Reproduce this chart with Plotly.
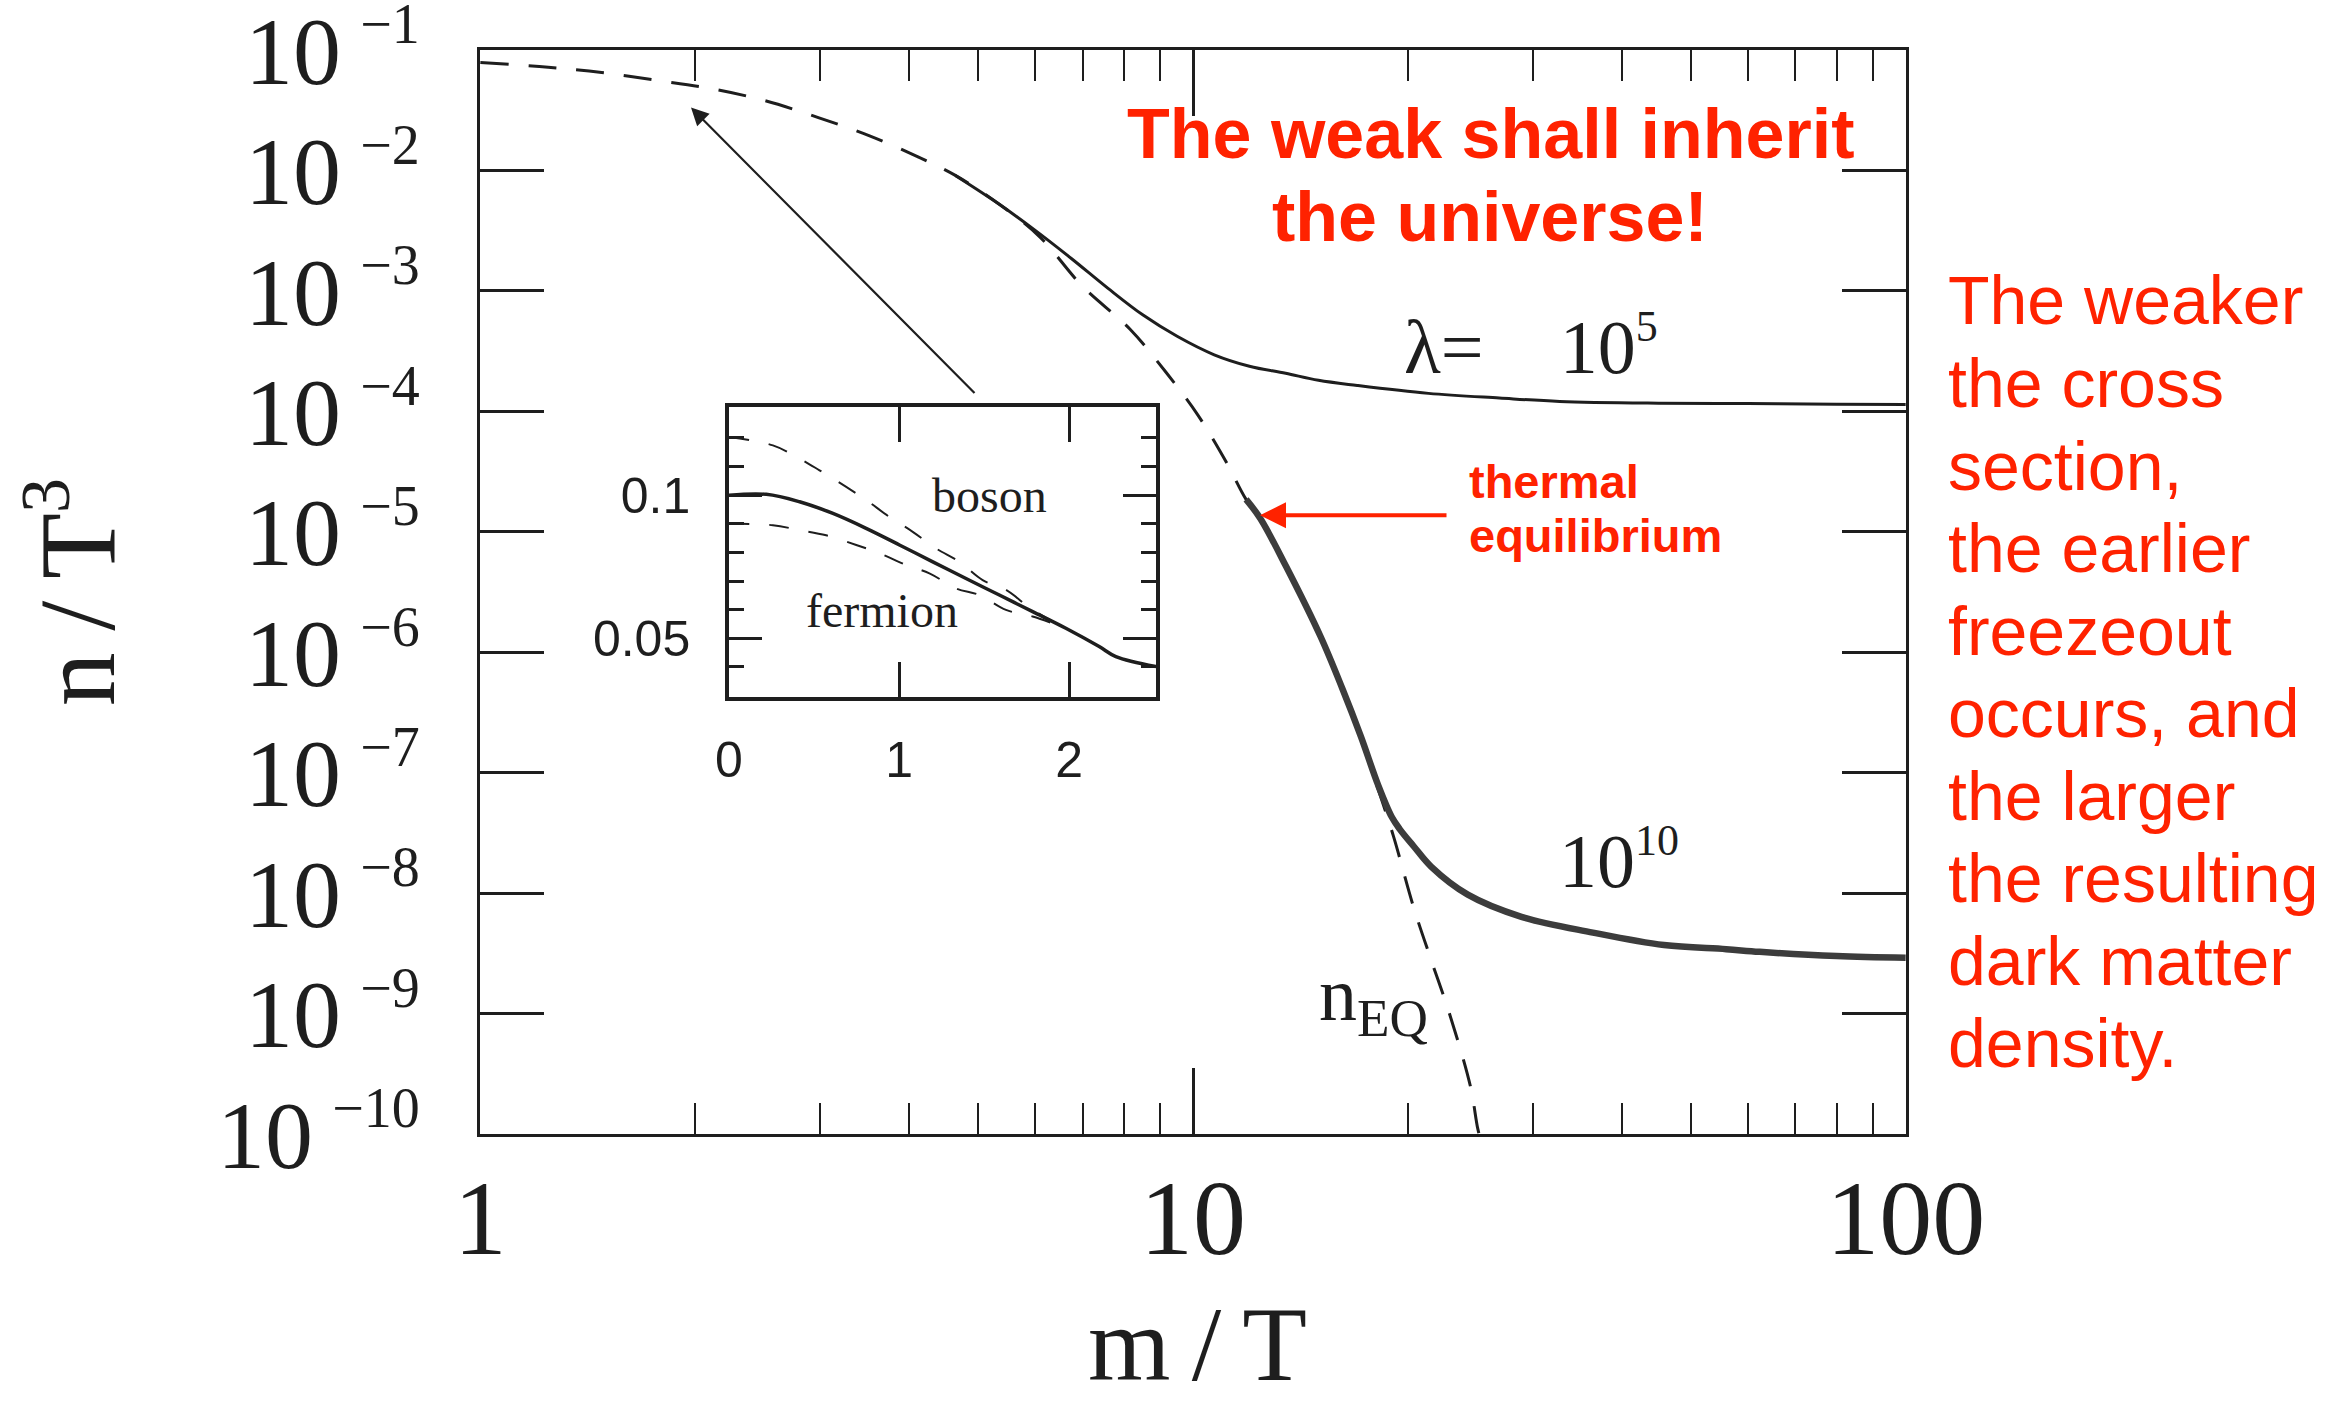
import plotly.graph_objects as go

# ---- data ----
# equilibrium abundance (dashed)
x_eq = [1.0, 1.245, 1.48, 1.77, 2.1, 2.51, 2.98, 3.51, 4.12, 4.64, 5.36, 6.1, 6.99,
        8.16, 9.17, 10.16, 11.16, 11.87, 12.43, 13.5, 15.1, 16.6, 18.2, 19.1, 20.4,
        21.6, 22.9, 24.5, 25.1, 25.4]
n_eq = [7.9e-2, 7.2e-2, 6.5e-2, 5.6e-2, 4.8e-2, 3.8e-2, 2.75e-2, 1.95e-2, 1.29e-2,
        9.1e-3, 5.2e-3, 2.8e-3, 1.1e-3, 4.8e-4, 2.1e-4, 9.3e-5, 3.7e-5, 1.86e-5,
        1.29e-5, 5.2e-6, 1.35e-6, 3.5e-7, 7.2e-8, 3.0e-8, 7.6e-9, 2.75e-9, 1.0e-9,
        2.5e-10, 1.1e-10, 8.5e-11]

# lambda = 1e5
x_lam5 = [4.64, 5.36, 6.0, 6.75, 7.6, 8.51, 9.5, 10.71, 12.0, 13.49, 15.0, 17.0,
          21.4, 26.9, 32.7, 45, 60, 80, 100]
n_lam5 = [9.1e-3, 5.2e-3, 3.2e-3, 1.86e-3, 1.05e-3, 6.3e-4, 4.2e-4, 2.95e-4, 2.37e-4,
          2.07e-4, 1.81e-4, 1.64e-4, 1.41e-4, 1.29e-4, 1.21e-4, 1.17e-4, 1.16e-4,
          1.145e-4, 1.14e-4]

# lambda = 1e10
x_lam10 = [11.87, 12.43, 13.5, 15.1, 16.2, 17.2, 18.2, 19.0, 19.5, 20.4, 21.6, 24.3,
           28.9, 36.4, 45.8, 56, 62.4, 80, 100]
n_lam10 = [1.86e-5, 1.29e-5, 5.2e-6, 1.35e-6, 5.0e-7, 2.0e-7, 7.8e-8, 4.3e-8, 3.4e-8,
           2.45e-8, 1.65e-8, 9.7e-9, 6.35e-9, 4.7e-9, 3.7e-9, 3.42e-9, 3.25e-9, 3.0e-9,
           2.9e-9]

# inset: Maxwell-Boltzmann (solid), boson and fermion (dashed)
inset_x_mb = [0.0, 0.219, 0.415, 0.611, 0.806, 1.002, 1.198, 1.393, 1.589, 1.785,
              1.98, 2.176, 2.274, 2.51]
inset_mb = [0.1, 0.1003, 0.0977, 0.0936, 0.0884, 0.0826, 0.0767, 0.0709, 0.0651,
            0.0593, 0.0535, 0.0471, 0.0436, 0.0401]
inset_x_boson = [0.0, 0.258, 0.415, 0.532, 0.689, 0.806, 0.943, 1.08, 1.217, 1.354,
                 1.491, 1.628, 1.785, 1.98]
inset_boson = [0.1203, 0.1174, 0.1128, 0.1087, 0.1029, 0.0983, 0.0924, 0.0872, 0.0814,
               0.0767, 0.0703, 0.0669, 0.0599, 0.0535]
inset_x_fermion = [0.0, 0.258, 0.415, 0.571, 0.748, 0.885, 1.041, 1.178, 1.335, 1.472,
                   1.628, 1.785, 1.98]
inset_fermion = [0.0901, 0.0895, 0.0878, 0.086, 0.0826, 0.0797, 0.0756, 0.0727, 0.0674,
                 0.0651, 0.0599, 0.0576, 0.0535]

# ticks
y_tick_vals = [1e-10, 1e-9, 1e-8, 1e-7, 1e-6, 1e-5, 1e-4, 1e-3, 1e-2, 1e-1]
y_tick_exp = ["\u221210", "\u22129", "\u22128", "\u22127", "\u22126", "\u22125",
              "\u22124", "\u22123", "\u22122", "\u22121"]
x_tick_vals = [1, 10, 100]
x_tick_text = ["1", "10", "100"]
x_minor_vals = [2, 3, 4, 5, 6, 7, 8, 9, 20, 30, 40, 50, 60, 70, 80, 90]
inset_x_ticks = [0, 1, 2]
inset_x_text = ["0", "1", "2"]
inset_y_ticks = [0.05, 0.1]
inset_y_text = ["0.05", "0.1"]
inset_y_minor = [0.04, 0.06, 0.07, 0.08, 0.09, 0.11, 0.12]

right_text = ["The weaker", "the cross", "section,", "the earlier", "freezeout",
              "occurs, and", "the larger", "the resulting", "dark matter", "density."]

SERIF = "Liberation Serif"
SANS = "Liberation Sans"
INK = "#1e1e1e"
RED = "#ff2200"


def sup(s, size):
    # smaller superscript than plotly's default 70%
    return "<sup><span style='font-size:%dpx'>%s</span></sup>" % (size, s)


y_tick_text = ["10\u2009" + sup(e, 56) for e in y_tick_exp]


# plot area in pixels: x 480..1906, y 49.5..1134
def px(x):
    return (x - 480) / 1426


def py(y):
    return (1134 - y) / 1084.5


fig = go.Figure()

fig.add_trace(go.Scatter(x=x_eq, y=n_eq, mode="lines", line_shape="spline",
                         line=dict(color=INK, width=3, dash="28px,20px")))
fig.add_trace(go.Scatter(x=x_lam5, y=n_lam5, mode="lines", line_shape="spline",
                         line=dict(color=INK, width=3)))
fig.add_trace(go.Scatter(x=x_lam10, y=n_lam10, mode="lines", line_shape="spline",
                         line=dict(color="#3c3c3c", width=6.5)))

# inset
fig.add_trace(go.Scatter(x=inset_x_mb, y=inset_mb, mode="lines", line_shape="spline",
                         line=dict(color=INK, width=3.5), xaxis="x2", yaxis="y2"))
fig.add_trace(go.Scatter(x=inset_x_boson, y=inset_boson, mode="lines", line_shape="spline",
                         line=dict(color=INK, width=2, dash="20px,20px"),
                         xaxis="x2", yaxis="y2"))
fig.add_trace(go.Scatter(x=inset_x_fermion, y=inset_fermion, mode="lines", line_shape="spline",
                         line=dict(color=INK, width=2, dash="20px,20px"),
                         xaxis="x2", yaxis="y2"))

axis_common = dict(showline=True, linecolor=INK, mirror="ticks", ticks="inside",
                   tickcolor=INK, showgrid=False, zeroline=False, automargin=False,
                   ticklabeloverflow="allow")

fig.update_layout(
    width=2329, height=1409,
    margin=dict(l=480, r=423, t=49.5, b=275, autoexpand=False),
    paper_bgcolor="white", plot_bgcolor="white",
    showlegend=False,
    xaxis=dict(type="log", range=[-0.0005, 2.0005], tickvals=x_tick_vals, ticktext=x_tick_text,
               ticklen=66, tickwidth=2.5, linewidth=3, ticklabelstandoff=-10,
               tickfont=dict(family=SERIF, size=106, color=INK),
               minor=dict(ticks="inside", tickvals=x_minor_vals, ticklen=31,
                          tickwidth=2.2, tickcolor=INK),
               **axis_common),
    yaxis=dict(type="log", range=[-10.0005, -0.9995], tickvals=y_tick_vals, ticktext=y_tick_text,
               ticklen=64, tickwidth=2.5, linewidth=3, ticklabelstandoff=38,
               tickfont=dict(family=SERIF, size=96, color=INK),
               **axis_common),
    xaxis2=dict(domain=[px(729), px(1156)], anchor="y2", range=[0, 2.51],
                tickvals=inset_x_ticks, ticktext=inset_x_text, ticklen=35, tickwidth=2.5,
                linewidth=3.5, ticklabelstandoff=16,
                tickfont=dict(family=SANS, size=50, color=INK), **axis_common),
    yaxis2=dict(domain=[py(697), py(407)], anchor="x2", range=[0.0294, 0.1307],
                tickvals=inset_y_ticks, ticktext=inset_y_text, ticklen=33, tickwidth=2.5,
                linewidth=3.5, ticklabelstandoff=25,
                tickfont=dict(family=SANS, size=50, color=INK),
                minor=dict(ticks="inside", tickvals=inset_y_minor, ticklen=15,
                           tickwidth=2.5, tickcolor=INK),
                **axis_common),
)

ann = []
# axis titles
ann.append(dict(text="m\u2009/\u2009T", x=px(1197), y=py(1345),
                font=dict(family=SERIF, size=106, color=INK)))
ann.append(dict(text="n\u2009/\u2009T" + sup("3", 70), x=px(72), y=py(592), textangle=-90,
                font=dict(family=SERIF, size=108, color=INK)))
# curve labels
ann.append(dict(text="\u03bb=\u00a0\u00a0\u00a0\u00a010" + sup("5", 44), x=px(1402), y=py(345),
                xanchor="left", font=dict(family=SERIF, size=76, color=INK)))
ann.append(dict(text="10" + sup("10", 44), x=px(1557), y=py(859), xanchor="left",
                font=dict(family=SERIF, size=76, color=INK)))
ann.append(dict(text="n<sub>EQ</sub>", x=px(1317), y=py(1000), xanchor="left",
                font=dict(family=SERIF, size=76, color=INK)))
ann.append(dict(text="boson", x=px(989), y=py(495), font=dict(family=SERIF, size=48, color=INK)))
ann.append(dict(text="fermion", x=px(882), y=py(610), font=dict(family=SERIF, size=48, color=INK)))
# red headline
ann.append(dict(text="<b>The weak shall inherit</b>", x=px(1490), y=py(134),
                font=dict(family=SANS, size=70, color=RED)))
ann.append(dict(text="<b>the universe!</b>", x=px(1490), y=py(217),
                font=dict(family=SANS, size=70, color=RED)))
ann.append(dict(text="<b>thermal</b>", x=px(1467), y=py(481), xanchor="left",
                font=dict(family=SANS, size=47, color=RED)))
ann.append(dict(text="<b>equilibrium</b>", x=px(1467), y=py(535), xanchor="left",
                font=dict(family=SANS, size=47, color=RED)))
for i, line in enumerate(right_text):
    ann.append(dict(text=line, x=px(1946), y=py(300 + i * 82.6), xanchor="left",
                    font=dict(family=SANS, size=68, color=RED)))

for a in ann:
    a.update(xref="paper", yref="paper", showarrow=False)
    a.setdefault("xanchor", "center")
    a.setdefault("yanchor", "middle")

# arrows
ann.append(dict(x=px(691), y=py(107), xref="paper", yref="paper", ax=285, ay=287,
                text="", showarrow=True, arrowhead=2, arrowsize=1.6, arrowwidth=2.2,
                arrowcolor=INK, standoff=0))
ann.append(dict(x=px(1260), y=py(515), xref="paper", yref="paper", ax=188, ay=0,
                text="", showarrow=True, arrowhead=2, arrowsize=1.3, arrowwidth=4,
                arrowcolor=RED, standoff=0))

fig.update_layout(annotations=ann)

fig.write_html("out.html", config={"displayModeBar": False},
               post_script="document.body.style.margin='0';")
